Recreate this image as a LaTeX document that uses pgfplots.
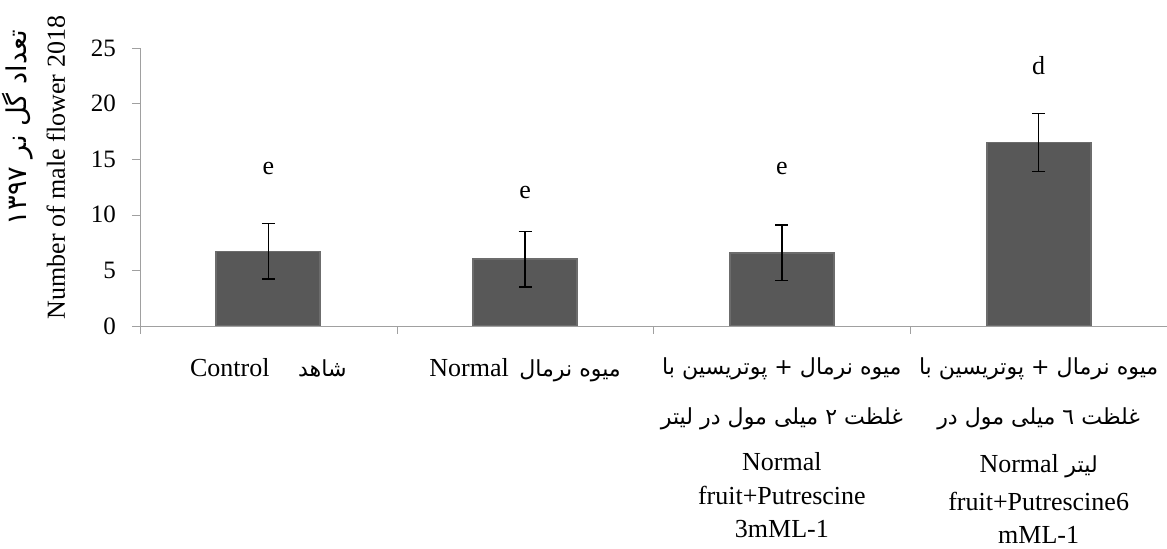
\documentclass[border=0pt]{standalone}
\usepackage{fontspec}
\setmainfont{Liberation Serif}
\newfontfamily\fa[Script=Arabic,Scale=0.85]{DejaVu Sans}
\TeXXeTstate=1
\usepackage{pgfplots}
\pgfplotsset{compat=1.18}
\definecolor{axisgray}{HTML}{A0A0A0}
\definecolor{barfill}{HTML}{585858}
\definecolor{baredge}{HTML}{6C6C6C}
\begin{document}
\begin{tikzpicture}
\path[use as bounding box] (-70pt,-111.5pt) rectangle (513.5pt,163pt);
\begin{axis}[
    at={(0,0)}, anchor=south west,
    width=513.5pt, height=139pt, scale only axis,
    xmin=0.5, xmax=4.5,
    ymin=0, ymax=25,
    axis lines*=left,
    axis line style={-, draw=axisgray},
    tick align=outside,
    major tick length=4pt,
    minor tick length=4pt,
    tick style={draw=axisgray},
    every major x tick/.append style={draw=none},
    xtick={1,2,3,4},
    minor xtick={0.5,1.5,2.5,3.5,4.5},
    ytick={0,5,10,15,20,25},
    /pgf/number format/assume math mode=true,
    yticklabel style={font=\fontsize{12.5}{15}\selectfont, xshift=-4.5pt},
    xticklabel style={font=\fontsize{13}{16}\selectfont, align=center, anchor=north, yshift=-8.5pt},
    xticklabels={
        {Control\hspace{1.1em}{\fa\beginR شاهد\endR}},
        {Normal\hspace{0.4em}{\fa\beginR میوه نرمال\endR}},
        {{\fa\beginR میوه نرمال + پوتریسین با\endR}\\[9pt]{\fa\beginR غلظت ۲ میلی مول  در لیتر\endR}\\[7pt]Normal\\[1pt]fruit+Putrescine\\[0.5pt]3mML-1},
        {{\fa\beginR میوه نرمال + پوتریسین با\endR}\\[9pt]{\fa\beginR غلظت ٦ میلی مول  در\endR}\\[8pt]Normal {\fa\beginR لیتر\endR}\\[3pt]fruit+Putrescine6\\[0.5pt]mML-1}
    },
    ylabel={{\fa\fontsize{16}{18}\selectfont\beginR تعداد گل نر \beginL۱۳۹۷\endL\endR}\rule{7pt}{0pt}\\[3.5pt]Number of male flower 2018},
    ylabel style={align=right, font=\fontsize{13}{15.5}\selectfont, at={(ticklabel cs:0.57,6pt)}},
]
\addplot[ybar, bar width=52pt, fill=barfill, draw=baredge, line width=0.9pt,
    error bars/.cd, y dir=both, y explicit,
    error bar style={black, line width=0.8pt},
    error mark options={rotate=90, mark size=3.25pt, black, line width=0.8pt}]
    coordinates {
        (1, 6.7) +- (0, 2.5)
        (2, 6.0) +- (0, 2.5)
        (3, 6.6) +- (0, 2.5)
        (4, 16.5) +- (0, 2.6)
    };
\addplot[draw=none, mark=none, nodes near coords, point meta=explicit symbolic,
    every node near coord/.append style={anchor=center, font=\fontsize{13}{15}\selectfont}]
    coordinates {
        (1, 14.2) [e]
        (2, 12.0) [e]
        (3, 14.2) [e]
        (4, 23.4) [d]
    };
\end{axis}
\end{tikzpicture}
\end{document}
